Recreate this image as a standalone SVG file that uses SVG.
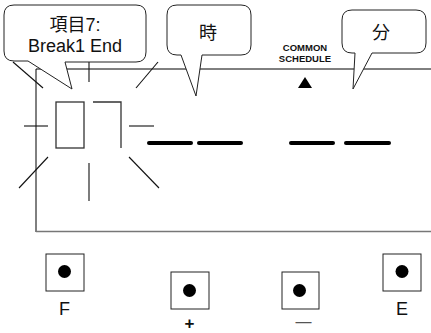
<svg xmlns="http://www.w3.org/2000/svg" width="431" height="333" viewBox="0 0 431 333">
<style>
.t{font-family:"Liberation Sans","Noto Sans CJK JP",Arial,sans-serif;fill:#111}
.bub{fill:#fff;stroke:#222;stroke-width:1}
.ray{stroke:#111;stroke-width:1.1;fill:none}
.seg{stroke:#333;stroke-width:1.3;fill:none}
.dash{stroke:#000;stroke-width:4;stroke-linecap:round}
.btn{fill:#fff;stroke:#222;stroke-width:1}
</style>
<rect width="431" height="333" fill="#fff"/>
<g id="frame">
<line x1="36" y1="69" x2="431" y2="69" stroke="#000" stroke-width="1"/>
<line x1="36" y1="69" x2="36" y2="232" stroke="#000" stroke-width="1"/>
<line x1="36" y1="231.5" x2="431" y2="231.5" stroke="#777" stroke-width="1.5"/>
</g>
<g id="digit">
<rect class="seg" x="56" y="102" width="28" height="46"/>
<polyline class="seg" points="93,102 121,102 121,148"/>
</g>
<g id="rays">
<line class="ray" x1="13" y1="62" x2="43" y2="88"/>
<line class="ray" x1="89" y1="61" x2="89" y2="82"/>
<line class="ray" x1="158" y1="62" x2="136" y2="88"/>
<line class="ray" x1="24" y1="126" x2="48" y2="126"/>
<line class="ray" x1="129" y1="126" x2="154" y2="126"/>
<line class="ray" x1="48" y1="157" x2="19" y2="188"/>
<line class="ray" x1="89" y1="163" x2="89" y2="201"/>
<line class="ray" x1="129" y1="157" x2="159" y2="188"/>
</g>
<g id="dashes">
<line class="dash" x1="149" y1="143" x2="191" y2="143"/>
<line class="dash" x1="199" y1="143" x2="241" y2="143"/>
<line class="dash" x1="291" y1="143" x2="333" y2="143"/>
<line class="dash" x1="346" y1="143" x2="389" y2="143"/>
</g>
<g id="schedule">
<text class="t" x="305" y="51" font-size="9.5" font-weight="bold" text-anchor="middle">COMMON</text>
<text class="t" x="305" y="62" font-size="9.5" font-weight="bold" text-anchor="middle">SCHEDULE</text>
<polygon points="305,77 298,88 312,88" fill="#000"/>
</g>
<g id="bubble-item">
<path class="bub" d="M14,5 H136 Q146,5 146,15 V52 Q146,62 136,62 H65 L72,89 L28,61 H14 Q4,61 4,51 V15 Q4,5 14,5 Z"/>
<text class="t" x="75" y="31" font-size="18" text-anchor="middle">項目7:</text>
<text class="t" x="75" y="52" font-size="18" text-anchor="middle">Break1 End</text>
</g>
<g id="bubble-hour">
<path class="bub" d="M177,5 H241 Q251,5 251,15 V45 Q251,55 241,55 H202 L196,96 L181,55 H177 Q167,55 167,45 V15 Q167,5 177,5 Z"/>
<text class="t" x="208" y="39" font-size="18" text-anchor="middle">時</text>
</g>
<g id="bubble-min">
<path class="bub" d="M352,10 H416 Q426,10 426,20 V43 Q426,53 416,53 H372 L353,89 L355,53 H352 Q342,53 342,43 V20 Q342,10 352,10 Z"/>
<text class="t" x="381" y="39" font-size="18" text-anchor="middle">分</text>
</g>
<g id="btn-F">
<rect class="btn" x="46" y="254" width="38" height="37"/>
<circle cx="64.5" cy="271.5" r="6.5" fill="#000"/>
<text class="t" x="64.5" y="315" font-size="18" text-anchor="middle">F</text>
</g>
<g id="btn-plus">
<rect class="btn" x="171" y="272" width="38" height="37"/>
<circle cx="189.5" cy="290.5" r="6.5" fill="#000"/>
<text class="t" x="189.5" y="329" font-size="17" font-weight="bold" text-anchor="middle">+</text>
</g>
<g id="btn-minus">
<rect class="btn" x="282" y="272" width="37" height="37"/>
<circle cx="299.5" cy="290.5" r="6.5" fill="#000"/>
<text class="t" x="303.5" y="326.5" font-size="16" text-anchor="middle" style="fill:#555">—</text>
</g>
<g id="btn-E">
<rect class="btn" x="383" y="254" width="38" height="37"/>
<circle cx="402" cy="271.5" r="6.5" fill="#000"/>
<text class="t" x="402" y="315" font-size="18" text-anchor="middle">E</text>
</g>
</svg>
